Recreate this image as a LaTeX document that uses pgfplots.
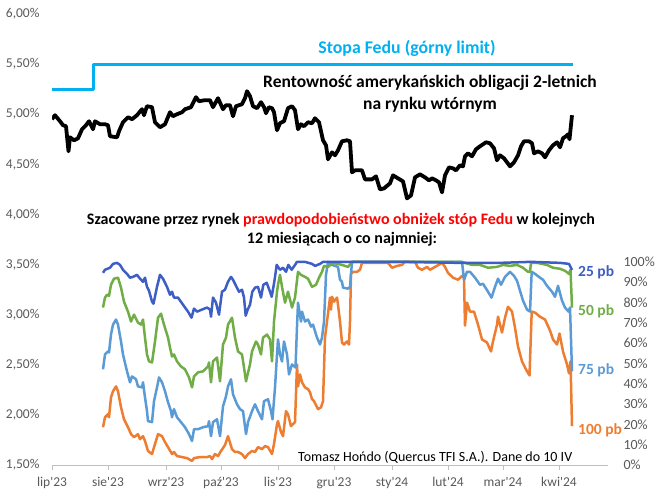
\documentclass[border=0pt]{standalone}
\usepackage{fontspec}
\setmainfont{Carlito}[Ligatures=TeXOff]
\usepackage{pgfplots}
\pgfplotsset{compat=1.18}
\definecolor{fedblue}{HTML}{00B0F0}
\definecolor{dblue}{HTML}{3D5EC4}
\definecolor{pgreen}{HTML}{70AD47}
\definecolor{lblue}{HTML}{5B9BD5}
\definecolor{porange}{HTML}{ED7D31}
\definecolor{tickgray}{HTML}{595959}
\definecolor{axgray}{HTML}{BFBFBF}
\begin{document}
\begin{tikzpicture}[x=1pt,y=1pt]
\path[use as bounding box] (0,0) rectangle (663,497);
% ---------- left axis: rates ----------
\begin{axis}[
  at={(52pt,32pt)}, anchor=south west, scale only axis,
  width=556pt, height=451pt,
  xmin=52, xmax=608, ymin=1.5, ymax=6,
  axis x line*=bottom, axis y line*=left,
  x axis line style={draw=axgray, line width=0.8pt},
  y axis line style={draw=none},
  xtick={52,108,166,221,278,334,392,448,503,559},
  xticklabels={lip'23,sie'23,wrz'23,paź'23,lis'23,gru'23,sty'24,lut'24,mar'24,kwi'24},
  xtick style={draw=axgray, line width=0.8pt},
  tick align=outside, major tick length=5pt,
  ytick={1.5,2,2.5,3,3.5,4,4.5,5,5.5,6},
  yticklabels={{1,50\%},{2,00\%},{2,50\%},{3,00\%},{3,50\%},{4,00\%},{4,50\%},{5,00\%},{5,50\%},{6,00\%}},
  ytick style={draw=none},
  tick label style={font=\fontsize{13.5}{15}\selectfont, text=tickgray},
  xticklabel style={yshift=-4pt},
  yticklabel style={xshift=-4pt},
]
\addplot[fedblue, line width=3pt, line join=round] coordinates {(52,5.25) (93,5.25) (93,5.50) (573,5.50)};
\addplot[black, line width=3.8pt, line join=round] coordinates {
(52,4.95) (55,4.99) (60,4.93) (63,4.89) (66,4.88) (68.5,4.63) (70,4.77) (74,4.74) (78,4.76) (82,4.85)
(86,4.89) (89,4.93) (93,4.85) (95,4.93) (100,4.90) (105,4.90) (108,4.89) (110,4.78) (117,4.77) (119,4.83)
(123,4.92) (128,4.97) (132,4.95) (137,4.99) (142,5.05) (144,4.99) (147,5.08) (152,5.07) (155,4.92) (160,4.87)
(165,4.90) (170,5.02) (173,4.98) (177,5.00) (182,5.02) (185,5.05) (191,5.07) (193,5.11) (196,5.17) (199,5.13)
(205,5.14) (210,5.14) (213,5.07) (218,5.16) (223,5.05) (226,5.09) (230,5.09) (233,4.98) (236,5.08) (242,5.10)
(245,5.16) (247,5.23) (250,5.18) (253,5.08) (257,5.06) (261,5.12) (264,5.07) (266,5.01) (269,5.07) (272,5.06)
(274,5.02) (277,4.84) (280,4.91) (284,4.93) (288,5.06) (292,5.08) (295,5.04) (298,4.85) (301,4.90) (304,4.88)
(308,4.92) (312,4.91) (315,4.96) (319,4.92) (323,4.74) (326,4.69) (328,4.55) (332,4.62) (335,4.59) (338,4.64)
(342,4.73) (347,4.74) (350,4.73) (352,4.42) (355,4.44) (362,4.44) (365,4.35) (372,4.35) (376,4.38) (380,4.25)
(384,4.26) (390,4.31) (393,4.39) (398,4.36) (403,4.33) (407,4.16) (411,4.19) (415,4.37) (420,4.40) (425,4.37)
(429,4.34) (432,4.36) (436,4.34) (439,4.32) (442,4.22) (445,4.39) (449,4.47) (453,4.46) (456,4.44) (460,4.49)
(463,4.48) (465,4.58) (468,4.61) (472,4.58) (476,4.65) (480,4.68) (486,4.72) (490,4.71) (494,4.66) (497,4.54)
(500,4.59) (504,4.56) (507,4.52) (510,4.48) (514,4.52) (518,4.59) (521,4.68) (524,4.73) (529,4.73) (532,4.71)
(534,4.61) (538,4.63) (542,4.61) (545,4.57) (549,4.64) (553,4.69) (557,4.72) (560,4.67) (563,4.76) (566,4.78)
(568,4.80) (569.5,4.75) (572,4.99)};
\end{axis}
% ---------- right axis: probabilities ----------
\begin{axis}[
  at={(52pt,32pt)}, anchor=south west, scale only axis,
  width=556pt, height=451pt,
  xmin=52, xmax=608, ymin=0, ymax=222,
  axis x line=none, axis y line*=right,
  y axis line style={draw=none},
  ytick={0,10,20,30,40,50,60,70,80,90,100},
  yticklabels={0\%,10\%,20\%,30\%,40\%,50\%,60\%,70\%,80\%,90\%,100\%},
  ytick style={draw=none},
  tick label style={font=\fontsize{14}{16}\selectfont, text=tickgray},
  yticklabel style={xshift=12pt},
]
\addplot[porange, line width=2.5pt, line join=round] coordinates {
(103,18.6) (105,23.5) (108,25) (109,23.5) (111,33.3) (113,36.3) (116,38.7) (118,36.3) (121,28.4) (124,22.5)
(128,18.6) (131,15.2) (134,13.7) (138,15.2) (140,12.7) (143,14.2) (145,11.8) (148,6.9) (152,5.4) (155,10.3)
(158,15.2) (162,14.2) (165,11.3) (168,8.8) (172,5.4) (174,6.4) (177,4.4) (182,3.9) (187,3.4) (192,2)
(194,3.4) (200,3.9) (207,3.9) (210,4.4) (212,2.9) (215,5.4) (218,4.4) (221,6.9) (225,9.8) (228,14.2)
(232,7.8) (235,6.4) (238,6.4) (242,5.4) (245,3.4) (248,5.4) (252,6.9) (255,6.4) (258,8.8) (262,7.8)
(265,9.3) (268,8.8) (272,5.4) (274,10.3) (277,20.1) (278,21.6) (281,16.2) (283,14.2) (286,26.5) (288,25)
(291,19.1) (295,21.1) (297,49.5) (298,38.7) (300,44.6) (302,40.7) (305,38.2) (308,37.3) (310,35.8) (312,32.4)
(314,31.4) (318,27.5) (321,28.4) (323,31.4) (325,62.7) (327,70.6) (330,82.4) (331,76.5) (332,82.8) (334,80.4)
(337,82.4) (338,78.9) (340,70.6) (342,60.3) (344,59.3) (347,60.8) (349,59.3) (350,70.6) (351,94.1) (353,95.1)
(357,95.1) (360,96.1) (362,99.5) (388,99.5) (392,97.1) (397,98) (402,98.5) (405,100) (415,100) (418,97.1)
(422,96.1) (427,97.5) (430,96.1) (435,97.5) (442,99.5) (445,97.5) (448,94.6) (453,92.2) (458,91.2) (462,93.1)
(464,92.2) (465,68.6) (467,79.9) (470,75.5) (474,75.5) (478,69.1) (482,61.8) (487,60.3) (491,55.9) (493,60.8)
(497,69.1) (498,73) (502,65.2) (505,72.5) (508,77.9) (512,75.5) (515,67.6) (518,58.3) (522,51) (527,46.1)
(529.5,44.1) (531.7,75.5) (535,75) (540,73) (545,71.6) (550,66.2) (553,61.8) (557,59.3) (559.5,64.7) (563,55.9)
(567,49.5) (569,45.1) (570.5,51) (572,19.1)};
\addplot[lblue, line width=2.5pt, line join=round] coordinates {
(103,47.1) (105,54.4) (108,55.9) (109,55.4) (111,64.2) (113,69.1) (116,71.6) (118,69.1) (121,60.8) (123,54.4)
(127,46.1) (130,40.7) (132,43.6) (136,42.2) (138,38.7) (142,38.2) (143,40.7) (145,33.3) (147,26.5) (148,21.6)
(152,21.1) (154,31.4) (157,38.2) (159,43.1) (162,40.7) (165,36.3) (168,30.9) (171,26.5) (172,23.5) (174,27.5)
(177,23.5) (181,21.1) (185,18.6) (189,15.2) (192,11.8) (194,17.6) (198,17.6) (203,18.6) (208,19.1) (209,21.6)
(211,14.2) (213,21.1) (217,22.5) (220,14.2) (223,28.9) (226,33.8) (228,38.7) (231,42.2) (233,34.8) (237,29.9)
(240,27.5) (243,26.5) (246,15.2) (248,21.1) (252,26.5) (255,29.9) (258,26.5) (262,22.5) (264,31.4) (268,32.4)
(271,26.5) (272.5,22.5) (275,38.2) (277,54.4) (278,61.8) (280,54.4) (282,51) (284,60.8) (287,54.4) (289,44.6)
(292,49.5) (295.5,48) (297,68.1) (298,79.9) (301,70.6) (302,75.5) (305,70.6) (308,71.6) (311,68.1) (313,69.1)
(317,62.7) (320,59.3) (322,62.7) (324,70.6) (326,93.6) (328,100) (332,98.5) (338,97.5) (340,91.2) (342,90.2)
(343,87.3) (348,86.8) (350,87.7) (352,100) (400,100) (462,100) (464,91.2) (467,95.1) (470,95.1) (475,92.2)
(480,88.7) (483,89.2) (488,85.3) (491.5,82.4) (495,87.7) (498,91.7) (501,88.7) (505,92.6) (510,95.1) (514,93.1)
(517,90.7) (520,85.8) (523,80.9) (527,76.5) (530,75.5) (531.7,95.1) (535,94.1) (540,92.2) (543,91.2) (547,88.2)
(552,85.3) (555,82.8) (558,88.2) (562,80.9) (565,77.5) (568.5,75.5) (570,77.5) (572,46.1)};
\addplot[pgreen, line width=2.5pt, line join=round] coordinates {
(103,77.5) (105,82.4) (107,83.8) (109,83.3) (111,88.7) (114,91.7) (118,92.2) (121,87.3) (124,80.4) (128,75.5)
(131,70.6) (134,74) (138,70.1) (141,69.1) (143,71.6) (145,62.7) (147,54.4) (149,51) (152,50.5) (155,60.8)
(158,72.5) (161,74.5) (164,69.1) (168,62.7) (170,57.8) (172,53.4) (174,54.4) (177,51) (181,48.5) (185,47.1)
(189,43.1) (192,38.2) (194,43.6) (198,45.6) (203,46.1) (208,48.5) (209,50.5) (211,40.7) (213,51) (217,52.9)
(220,41.2) (223,59.3) (226,62.7) (228,69.1) (232,72.5) (235,62.7) (238,55.9) (242,54.4) (244,48) (246,41.2)
(250,49.5) (252,55.9) (256,60.8) (258,59.3) (261,54.4) (263,62.7) (267,64.2) (270,61.8) (272,51) (274,70.6)
(277,85.3) (278,88.7) (280,93.6) (282,87.7) (285,79.9) (288,85.3) (292,77.5) (295,82.4) (298,95.1) (301,93.6)
(305,92.6) (308,91.7) (312,87.7) (316,88.7) (319,92.2) (322,95.1) (324,98) (328,97.5) (333,99.5) (342,98.5)
(348,97.5) (352,100) (462,100) (465,99.5) (472,98.5) (480,98.5) (488,97.1) (497,97.5) (503,98.5) (510,98)
(517,98.5) (523,97.1) (528,95.1) (530,95.1) (531,99.5) (537,99.5) (547,98.5) (553,97.1) (560,96.6) (565,95.6)
(569,94.1) (570.5,96.1) (572,77.5)};
\addplot[dblue, line width=2.5pt, line join=round] coordinates {
(103,94.6) (105,96.1) (110,97.1) (113,99) (117,99.5) (120,98.5) (123,96.1) (127,94.1) (130,92.2) (133,92.6)
(137,93.6) (140,91.7) (143,90.2) (145,92.2) (147,87.7) (149,85.8) (152,80.4) (153.5,79.4) (157,87.7) (160,93.6)
(163,91.7) (167,87.7) (170,83.8) (172,85.3) (174,82.4) (178,82.4) (183,78.9) (188,75.5) (191.5,72.5) (194,77)
(197,75.5) (202,76.5) (207,77.5) (210,76.5) (211,73) (213,82.4) (216,79.9) (219,74) (222,85.3) (225,86.3)
(228,90.2) (231,92.6) (233,91.2) (236.5,87.7) (239,85.3) (242,86.3) (244,82.4) (245.7,73.5) (247.7,76.5) (250,78.9)
(252.3,85.3) (255,87.3) (258,87.7) (261,82.4) (263.3,88.7) (266.7,89.7) (270,85.3) (271.7,82.8) (274.3,90.2) (276.7,98.5)
(280,96.1) (283,97.1) (286,95.1) (288.3,98.5) (291.7,96.1) (295,98.5) (297,100) (305,100) (312,99) (315,98)
(320,99) (323,100) (400,100) (460,99.5) (500,99.5) (531,100) (560,99.5) (569,99) (572,96)};
\end{axis}
% ---------- texts ----------
\node[text=fedblue, font=\fontsize{17.8}{21}\selectfont\bfseries] at (407,449) {Stopa Fedu (górny limit)};
\node[font=\fontsize{17.5}{21}\selectfont\bfseries] at (430,414) {Rentowność amerykańskich obligacji 2-letnich};
\node[font=\fontsize{17.5}{21}\selectfont\bfseries] at (430,392) {na rynku wtórnym};
\node[font=\fontsize{16}{19}\selectfont\bfseries] at (341,277) {Szacowane przez rynek \textcolor{red}{prawdopodobieństwo obniżek stóp Fedu} w kolejnych};
\node[font=\fontsize{16}{19}\selectfont\bfseries] at (342,258) {12 miesiącach o co najmniej:};
\node[anchor=west, font=\fontsize{14}{16}\selectfont, inner sep=0pt] at (298,40) {Tomasz Hońdo (Quercus TFI S.A.). Dane do 10 IV};
\node[anchor=west, text=dblue, font=\fontsize{15.5}{17}\selectfont\bfseries, inner sep=0pt] at (578,225) {25 pb};
\node[anchor=west, text=pgreen, font=\fontsize{15.5}{17}\selectfont\bfseries, inner sep=0pt] at (578,186) {50 pb};
\node[anchor=west, text=lblue, font=\fontsize{15.5}{17}\selectfont\bfseries, inner sep=0pt] at (578,127) {75 pb};
\node[anchor=west, text=porange, font=\fontsize{15.5}{17}\selectfont\bfseries, inner sep=0pt] at (578,67) {100 pb};
\end{tikzpicture}
\end{document}
